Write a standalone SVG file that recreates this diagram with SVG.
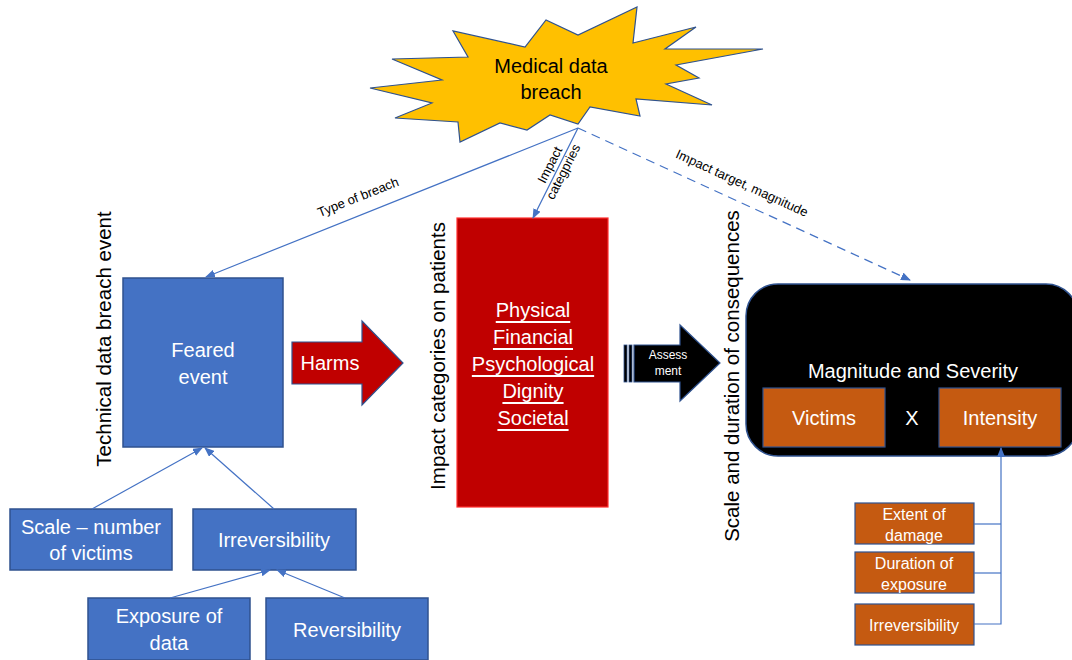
<svg xmlns="http://www.w3.org/2000/svg" width="1072" height="660" viewBox="0 0 1072 660">
<defs>
<marker id="ah" markerWidth="10" markerHeight="8" refX="9" refY="4" orient="auto" markerUnits="userSpaceOnUse">
<path d="M0,0 L10,4 L0,8 z" fill="#4472C4"/>
</marker>
<style>
text{font-family:"Liberation Sans",Arial,sans-serif;text-anchor:middle;dominant-baseline:central}
.w{fill:#fff;font-size:20px}
.b{fill:#000;font-size:20px}
.v{fill:#000;font-size:20.5px}
.lbl{fill:#000;font-size:13px}
.blue{fill:#4472C4;stroke:#2F528F;stroke-width:1.5}
.or{fill:#C55A11;stroke:#2F528F;stroke-width:1.2}
.con{stroke:#4472C4;stroke-width:1.2;fill:none}
.sm{fill:#fff;font-size:16px}
</style>
</defs>
<rect width="1072" height="660" fill="#fff"/>

<g id="breach">
<polygon points="370,88 442,80 392,59 468,57 453,31 525,47 546,20 578,35 637,7 633,43 696,27 665,49 763,49 676,65 699,78 666,84 712,105 636,99 640,116 590,107 578,124 550,115 527,130 500,123 460,142 458,122 395,118 432,103" fill="#FFC000" stroke="#2F528F" stroke-width="1.2"/>
<text class="b" x="551" y="66">Medical data</text>
<text class="b" x="551" y="92">breach</text>
</g>

<g id="feared">
<rect class="blue" x="123" y="278" width="160" height="169"/>
<text class="w" x="203" y="350">Feared</text>
<text class="w" x="203" y="377">event</text>
</g>
<text class="v" transform="translate(103,339) rotate(-90)">Technical data breach event</text>

<g id="harms">
<polygon points="292,342 362,342 362,321 403,363 362,405 362,384 292,384" fill="#C00000" stroke="#2F528F" stroke-width="1.2"/>
<text class="w" x="330" y="363">Harms</text>
</g>

<g id="impact">
<rect x="457" y="218" width="151" height="289" fill="#C00000" stroke="#FF3030" stroke-width="1.2"/>
<text class="w" x="533" y="310" text-decoration="underline">Physical</text>
<text class="w" x="533" y="337" text-decoration="underline">Financial</text>
<text class="w" x="533" y="364" text-decoration="underline">Psychological</text>
<text class="w" x="533" y="391" text-decoration="underline">Dignity</text>
<text class="w" x="533" y="418" text-decoration="underline">Societal</text>
</g>
<text class="v" transform="translate(437,356) rotate(-90)">Impact categories on patients</text>

<g id="assessment">
<rect x="624" y="345" width="3" height="37" fill="#000" stroke="#2F528F" stroke-width="0.8"/>
<rect x="629" y="345" width="3" height="37" fill="#000" stroke="#2F528F" stroke-width="0.8"/>
<polygon points="634,345 680,345 680,325 720,363 680,401 680,382 634,382" fill="#000" stroke="#2F528F" stroke-width="1.2"/>
<text class="lbl" x="668" y="355" style="fill:#fff;font-size:12px">Assess</text>
<text class="lbl" x="668" y="371" style="fill:#fff;font-size:12px">ment</text>
</g>
<text class="v" transform="translate(731,376) rotate(-90)">Scale and duration of consequences</text>

<g id="magnitude">
<rect x="746" y="284" width="332" height="172" rx="32" fill="#000" stroke="#2F528F" stroke-width="1.5"/>
<text class="w" x="913" y="371">Magnitude and Severity</text>
<text class="w" x="912" y="418">X</text>
</g>
<g id="victims">
<rect class="or" x="763" y="388" width="122" height="59"/>
<text class="w" x="824" y="418">Victims</text>
</g>
<g id="intensity">
<rect class="or" x="939" y="388" width="122" height="59"/>
<text class="w" x="1000" y="418">Intensity</text>
</g>

<g id="extent">
<rect class="or" x="855" y="503" width="119" height="41"/>
<text class="sm" x="914" y="514">Extent of</text>
<text class="sm" x="914" y="535">damage</text>
</g>
<g id="duration">
<rect class="or" x="855" y="552" width="119" height="41"/>
<text class="sm" x="914" y="563">Duration of</text>
<text class="sm" x="914" y="584">exposure</text>
</g>
<g id="irrev2">
<rect class="or" x="855" y="604" width="119" height="41"/>
<text class="sm" x="914" y="625">Irreversibility</text>
</g>

<g id="scale">
<rect class="blue" x="10" y="509" width="162" height="61"/>
<text class="w" x="91" y="527">Scale – number</text>
<text class="w" x="91" y="553">of victims</text>
</g>
<g id="irrev1">
<rect class="blue" x="193" y="509" width="163" height="61"/>
<text class="w" x="274" y="540">Irreversibility</text>
</g>
<g id="exposure">
<rect class="blue" x="88" y="598" width="162" height="62"/>
<text class="w" x="169" y="616">Exposure of</text>
<text class="w" x="169" y="643">data</text>
</g>
<g id="reversibility">
<rect class="blue" x="266" y="598" width="162" height="62"/>
<text class="w" x="347" y="630">Reversibility</text>
</g>

<g id="connectors">
<line class="con" x1="578" y1="128" x2="206" y2="277" marker-end="url(#ah)"/>
<line class="con" x1="578" y1="128" x2="533" y2="218" marker-end="url(#ah)"/>
<line class="con" x1="578" y1="128" x2="910" y2="280" stroke-dasharray="9,6" marker-end="url(#ah)"/>
<line class="con" x1="92" y1="509" x2="202" y2="448" marker-end="url(#ah)"/>
<line class="con" x1="274" y1="509" x2="205" y2="448" marker-end="url(#ah)"/>
<line class="con" x1="170" y1="598" x2="270" y2="570" marker-end="url(#ah)"/>
<line class="con" x1="345" y1="598" x2="277" y2="570" marker-end="url(#ah)"/>
<polyline class="con" points="974,524 1001,524"/>
<polyline class="con" points="974,573 1001,573"/>
<polyline class="con" points="974,624 1001,624 1001,448" marker-end="url(#ah)"/>
<text class="lbl" transform="translate(358,197) rotate(-21.8)">Type of breach</text>
<g transform="translate(556,168) rotate(-63)">
<text class="lbl" x="0" y="-7">Impact</text>
<text class="lbl" x="0" y="8">categpries</text>
</g>
<text class="lbl" transform="translate(742,183) rotate(24.6)">Impact target, magnitude</text>
</g>
</svg>
